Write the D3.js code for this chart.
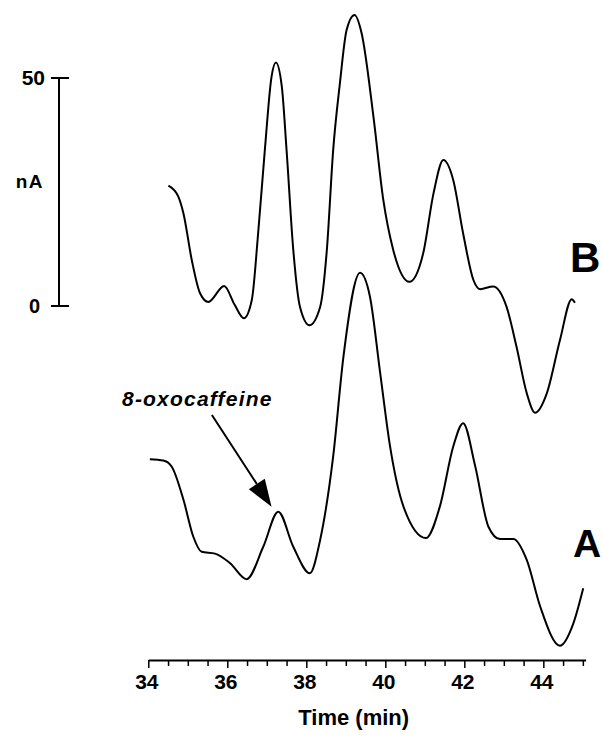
<!DOCTYPE html>
<html>
<head>
<meta charset="utf-8">
<script src="https://cdn.jsdelivr.net/npm/d3@7"></script>
<style>
  body { margin: 0; background: #fff; }
  svg { display: block; }
  text { font-family: "Liberation Sans", Arial, Helvetica, sans-serif; font-weight: bold; fill: #000; }
</style>
</head>
<body>
<svg id="chart" width="602" height="740"></svg>
<script>
// trace B (upper chromatogram), time in min, current in nA
var bTime = [34.51, 34.76, 34.89, 35.10, 35.31, 35.52, 35.92, 36.19, 36.42, 36.62, 36.78, 36.95,
  37.12, 37.23, 37.38, 37.50, 37.67, 37.84, 38.08, 38.35, 38.52, 38.68, 38.85, 39.02, 39.22,
  39.40, 39.70, 39.95, 40.20, 40.61, 40.96, 41.22, 41.47, 41.72, 41.97, 42.23, 42.40, 42.73,
  43.07, 43.32, 43.58, 43.79, 44.09, 44.42, 44.72, 44.80];
var bCurrent = [26.4, 24.0, 20.3, 10.1, 2.8, 0.9, 4.4, 0.2, -2.7, 1.3, 15.9, 34.2,
  50.3, 53.4, 48.1, 34.2, 12.3, -0.2, -4.2, -0.2, 12.3, 34.2, 48.8, 60.5, 63.8,
  59.8, 41.5, 23.2, 12.3, 5.3, 11.6, 24.7, 32.0, 27.6, 15.9, 5.7, 3.7, 4.3,
  -0.2, -8.9, -19.1, -23.4, -19.1, -7.5, 1.5, 0.7];

// trace A (lower chromatogram)
var aTime = [34.04, 34.38, 34.59, 34.89, 35.14, 35.35, 35.69, 36.07, 36.49, 36.91, 37.29, 37.67,
  38.09, 38.35, 38.68, 38.94, 39.36, 39.61, 39.87, 40.12, 40.46, 41.03, 41.38, 41.72, 41.97,
  42.27, 42.61, 42.90, 43.24, 43.58, 43.92, 44.42, 44.76, 45.01];
var aCurrent = [17.7, 17.4, 16.1, 8.8, 0.7, -2.6, -3.0, -5.1, -8.6, -1.5, 6.2, -1.5,
  -7.3, 0.0, 18.3, 40.2, 58.6, 53.4, 36.6, 20.5, 7.3, 0.4, 7.3, 20.5, 25.6,
  16.4, 2.9, 0.2, 0.2, -4.4, -14.6, -23.2, -18.3, -10.6];

var timeTicks = d3.range(34, 45.01, 0.5);
var timeLabels = [34, 36, 38, 40, 42, 44];
var scaleBar = [0, 50];

var aOffset = -51.3;   // vertical shift of trace A below trace B (nA)

var svg = d3.select("#chart");

var x = d3.scaleLinear().domain([34, 45.07]).range([148.3, 585.6]);
var y = d3.scaleLinear().domain([0, 50]).range([306, 78]);

var line = d3.line()
  .x(function(d) { return x(d[0]); })
  .y(function(d) { return y(d[1]); })
  .curve(d3.curveMonotoneX);

var traceB = bTime.map(function(t, i) { return [t, bCurrent[i]]; });
var traceA = aTime.map(function(t, i) { return [t, aCurrent[i] + aOffset]; });

svg.selectAll(".trace")
  .data([traceB, traceA])
  .enter().append("path")
  .attr("class", "trace")
  .attr("d", line)
  .attr("fill", "none")
  .attr("stroke", "#000")
  .attr("stroke-width", 2);

// time axis
var axis = svg.append("g")
  .attr("transform", "translate(0,660)")
  .call(d3.axisBottom(x)
    .tickValues(timeTicks)
    .tickSize(6)
    .tickSizeOuter(0)
    .tickFormat(function(d) { return timeLabels.indexOf(d) >= 0 ? d : ""; }));

axis.select(".domain").attr("stroke", "#000").attr("stroke-width", 2);
axis.selectAll(".tick line").attr("stroke", "#000").attr("stroke-width", 1.5)
  .attr("y2", function(d) { return timeLabels.indexOf(d) >= 0 ? 8 : 6; });
axis.selectAll(".tick text")
  .attr("y", 14)
  .attr("dx", -2)
  .style("font-family", "\"Liberation Sans\", Arial, sans-serif")
  .style("font-weight", "bold")
  .style("font-size", "21px")
  .attr("fill", "#000");

svg.append("text")
  .attr("x", x(39.2))
  .attr("y", 725)
  .attr("text-anchor", "middle")
  .style("font-size", "22px")
  .text("Time (min)");

// nA scale bar
svg.append("line")
  .attr("x1", 59).attr("x2", 59)
  .attr("y1", y(scaleBar[0])).attr("y2", y(scaleBar[1]))
  .attr("stroke", "#000").attr("stroke-width", 2);

svg.selectAll(".cap")
  .data(scaleBar)
  .enter().append("line")
  .attr("class", "cap")
  .attr("x1", 51).attr("x2", 69)
  .attr("y1", function(d) { return y(d); })
  .attr("y2", function(d) { return y(d); })
  .attr("stroke", "#000").attr("stroke-width", 2);

svg.selectAll(".capLabel")
  .data(scaleBar)
  .enter().append("text")
  .attr("class", "capLabel")
  .attr("x", function(d) { return d === 50 ? 45 : 40; })
  .attr("y", function(d) { return y(d) + 7; })
  .attr("text-anchor", "end")
  .style("font-size", function(d) { return d === 50 ? "21px" : "20px"; })
  .text(function(d) { return d; });

svg.append("text")
  .attr("x", 44)
  .attr("y", 188)
  .attr("text-anchor", "end")
  .style("font-size", "19px")
  .style("letter-spacing", "1.5px")
  .text("nA");

// trace labels
svg.append("text")
  .attr("x", 570).attr("y", 272)
  .style("font-size", "42px")
  .text("B");

svg.append("text")
  .attr("x", 573).attr("y", 557)
  .style("font-size", "39px")
  .text("A");

// 8-oxocaffeine annotation
svg.append("text")
  .attr("x", 122).attr("y", 406)
  .style("font-size", "21px")
  .style("font-style", "italic")
  .style("letter-spacing", "1.2px")
  .text("8-oxocaffeine");

var arrowFrom = [35.61, 27.4 + aOffset];
var arrowTo = [37.12, 7.3 + aOffset];
var x0 = x(arrowFrom[0]), y0 = y(arrowFrom[1]);
var x1 = x(arrowTo[0]), y1 = y(arrowTo[1]);
var ang = Math.atan2(y1 - y0, x1 - x0);
var headLen = 27, headW = 9.5;
var bx = x1 - headLen * Math.cos(ang), by = y1 - headLen * Math.sin(ang);

svg.append("line")
  .attr("x1", x0).attr("y1", y0)
  .attr("x2", bx).attr("y2", by)
  .attr("stroke", "#000").attr("stroke-width", 2);

svg.append("path")
  .attr("d", "M" + x1 + "," + y1 +
    "L" + (bx + headW * Math.sin(ang)) + "," + (by - headW * Math.cos(ang)) +
    "L" + (bx - headW * Math.sin(ang)) + "," + (by + headW * Math.cos(ang)) + "Z")
  .attr("fill", "#000");
</script>
</body>
</html>
